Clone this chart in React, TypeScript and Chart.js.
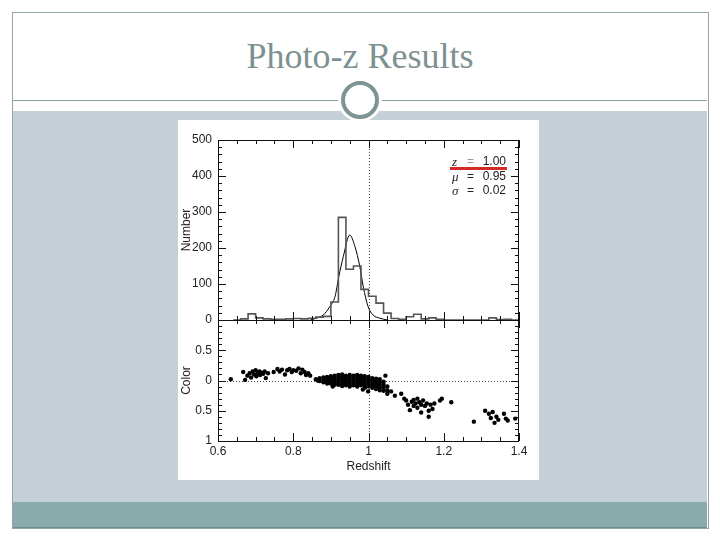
import React, { useEffect, useRef } from "react";
import Chart from "chart.js/auto";

// ---- Histogram (upper panel) ----
const binStarts = [0.64, 0.66, 0.68, 0.70, 0.72, 0.74, 0.76, 0.78, 0.80, 0.82, 0.84, 0.86, 0.88, 0.90, 0.92, 0.94, 0.96, 0.98, 1.00, 1.02, 1.04, 1.06, 1.08, 1.10, 1.12, 1.14, 1.16, 1.18, 1.20, 1.22, 1.24, 1.26, 1.28, 1.30, 1.32, 1.34, 1.36, 1.38];
const binCounts = [0, 3, 17, 6, 3, 2, 2, 3, 4, 3, 5, 8, 10, 50, 285, 141, 150, 85, 66, 47, 19, 4, 2, 9, 16, 3, 6, 2, 0, 0, 0, 0, 0, 0, 6, 1, 2, 0];
const histEnd = 1.40;

// ---- Gaussian fit curve ----
const fitZ = [0.845, 0.862, 0.880, 0.897, 0.911, 0.921, 0.933, 0.950, 0.964, 0.977, 0.986, 0.999, 1.012, 1.030, 1.050];
const fitN = [0, 5, 14, 37, 65, 120, 176, 236, 204, 148, 93, 37, 14, 5, 0];

// ---- Colour vs redshift (lower panel), [z, colour] ----
const scatterLow: [number, number][] = [
  [0.634, -0.02], [0.667, -0.14], [0.672, -0.01], [0.678, -0.08], [0.684, -0.12], [0.688, -0.05],
  [0.692, -0.15], [0.696, -0.1], [0.70, -0.17], [0.702, -0.07], [0.706, -0.12], [0.71, -0.15],
  [0.712, -0.09], [0.716, -0.13], [0.72, -0.11], [0.724, -0.15], [0.727, -0.04], [0.733, -0.12],
  [0.748, -0.14], [0.758, -0.19], [0.764, -0.15], [0.77, -0.18], [0.778, -0.1], [0.784, -0.17],
  [0.79, -0.19], [0.796, -0.14], [0.80, -0.17], [0.808, -0.16], [0.814, -0.2], [0.82, -0.12],
  [0.824, -0.18], [0.83, -0.14], [0.834, -0.09], [0.84, -0.12], [0.845, -0.08]
];
const scatterMain: [number, number][] = [
  [0.86, -0.02], [0.865, 0.0], [0.87, -0.04], [0.87, 0.01],
  [0.88, -0.05], [0.88, -0.01], [0.88, 0.03],
  [0.89, -0.06], [0.89, -0.02], [0.89, 0.02], [0.89, 0.05],
  [0.90, -0.07], [0.90, -0.03], [0.90, 0.01], [0.90, 0.05],
  [0.91, -0.08], [0.91, -0.04], [0.91, 0.0], [0.91, 0.04], [0.91, 0.07],
  [0.92, -0.09], [0.92, -0.05], [0.92, -0.01], [0.92, 0.03], [0.92, 0.07],
  [0.93, -0.1], [0.93, -0.06], [0.93, -0.02], [0.93, 0.02], [0.93, 0.06], [0.93, 0.09],
  [0.94, -0.08], [0.94, -0.04], [0.94, 0.0], [0.94, 0.04], [0.94, 0.08],
  [0.95, -0.09], [0.95, -0.05], [0.95, -0.01], [0.95, 0.03], [0.95, 0.07], [0.95, 0.1],
  [0.96, -0.08], [0.96, -0.04], [0.96, 0.0], [0.96, 0.04], [0.96, 0.08],
  [0.97, -0.09], [0.97, -0.05], [0.97, -0.01], [0.97, 0.03], [0.97, 0.07], [0.97, 0.1],
  [0.98, -0.08], [0.98, -0.04], [0.98, 0.0], [0.98, 0.04], [0.98, 0.08],
  [0.99, -0.07], [0.99, -0.03], [0.99, 0.01], [0.99, 0.05], [0.99, 0.09], [0.99, 0.12],
  [1.00, -0.06], [1.00, -0.02], [1.00, 0.02], [1.00, 0.06], [1.00, 0.1],
  [1.01, -0.04], [1.01, 0.0], [1.01, 0.04], [1.01, 0.08], [1.01, 0.12],
  [1.02, -0.03], [1.02, 0.01], [1.02, 0.05], [1.02, 0.09], [1.02, 0.14],
  [1.03, -0.02], [1.03, 0.03], [1.03, 0.07], [1.03, 0.11], [1.03, 0.16],
  [1.04, 0.02], [1.04, 0.07], [1.04, 0.12], [1.04, 0.17],
  [1.05, 0.1], [1.05, 0.16], [1.05, 0.22], [1.06, 0.18],
  [0.999, 0.18], [0.985, 0.15], [1.045, -0.08], [0.905, 0.1]
];
const scatterMid: [number, number][] = [
  [1.07, 0.25], [1.087, 0.22], [1.095, 0.3], [1.10, 0.33], [1.105, 0.4], [1.11, 0.49],
  [1.115, 0.35], [1.12, 0.32], [1.12, 0.42], [1.125, 0.38], [1.13, 0.3], [1.13, 0.45],
  [1.135, 0.36], [1.14, 0.4], [1.14, 0.53], [1.145, 0.33], [1.15, 0.42], [1.155, 0.38],
  [1.16, 0.6], [1.16, 0.5], [1.165, 0.4], [1.17, 0.47], [1.175, 0.38], [1.19, 0.33],
  [1.195, 0.3], [1.22, 0.36]
];
const scatterHigh: [number, number][] = [
  [1.28, 0.68], [1.31, 0.5], [1.32, 0.55], [1.325, 0.62], [1.33, 0.52], [1.335, 0.7],
  [1.34, 0.6], [1.345, 0.65], [1.36, 0.55], [1.365, 0.63], [1.37, 0.66], [1.39, 0.63]
];

// ---- Tick labels ----
const colorTickText: Record<string, string> = { "-1": "", "-0.5": "0.5", "0": "0", "0.5": "0.5", "1": "1" };
const legendRows = [
  { sym: "z", val: "1.00" },
  { sym: "μ", val: "0.95" },
  { sym: "σ", val: "0.02" }
];

const tickFont = { family: "'Liberation Sans', Arial, sans-serif", size: 12 };

function panelDecor(cfg: {
  xMinor: number; xMajor: number; yMinor: number; yMajor: number;
  dotted: { axis: "x" | "y"; value: number }[];
}) {
  return {
    id: "panelDecor",
    beforeDatasetsDraw(chart: any) {
      const { ctx, chartArea: a, scales } = chart;
      ctx.save();
      ctx.strokeStyle = "#444";
      ctx.lineWidth = 1;
      ctx.setLineDash([1, 2]);
      for (const d of cfg.dotted) {
        ctx.beginPath();
        if (d.axis === "x") {
          const px = Math.round(scales.x.getPixelForValue(d.value)) + 0.5;
          ctx.moveTo(px, a.top);
          ctx.lineTo(px, a.bottom);
        } else {
          const py = Math.round(scales.y.getPixelForValue(d.value)) + 0.5;
          ctx.moveTo(a.left, py);
          ctx.lineTo(a.right, py);
        }
        ctx.stroke();
      }
      ctx.restore();
    },
    afterDatasetsDraw(chart: any) {
      const { ctx, chartArea: a, scales } = chart;
      ctx.save();
      ctx.strokeStyle = "#111";
      ctx.lineWidth = 1;
      ctx.setLineDash([]);
      ctx.strokeRect(Math.round(a.left) + 0.5, Math.round(a.top) + 0.5, Math.round(a.right - a.left) - 1, Math.round(a.bottom - a.top));
      const drawAxis = (scale: any, minor: number, major: number, horiz: boolean) => {
        const n = Math.round((scale.max - scale.min) / minor);
        for (let i = 0; i <= n; i++) {
          const v = scale.min + i * minor;
          const r = v / major;
          const isMajor = Math.abs(r - Math.round(r)) < 1e-6;
          const len = isMajor ? 8 : 4;
          const p = Math.round(scale.getPixelForValue(v)) + 0.5;
          ctx.beginPath();
          if (horiz) {
            ctx.moveTo(p, a.bottom); ctx.lineTo(p, a.bottom - len);
            ctx.moveTo(p, a.top); ctx.lineTo(p, a.top + len);
          } else {
            ctx.moveTo(a.left, p); ctx.lineTo(a.left + len, p);
            ctx.moveTo(a.right, p); ctx.lineTo(a.right - len, p);
          }
          ctx.stroke();
        }
      };
      drawAxis(scales.x, cfg.xMinor, cfg.xMajor, true);
      drawAxis(scales.y, cfg.yMinor, cfg.yMajor, false);
      ctx.restore();
    }
  };
}

function TopPanel() {
  const ref = useRef<HTMLCanvasElement>(null);
  useEffect(() => {
    if (!ref.current) return;
    // each bin's count is held from its left edge to the next edge
    const histPoints = binStarts.map((x, i) => ({ x, y: binCounts[i] }));
    histPoints.push({ x: histEnd, y: 0 });
    const fitPoints = fitZ.map((x, i) => ({ x, y: fitN[i] }));
    const chart = new Chart(ref.current, {
      type: "line",
      data: {
        datasets: [
          { data: histPoints, stepped: "before", borderColor: "#555", borderWidth: 1.6, pointRadius: 0, fill: false },
          { data: fitPoints, borderColor: "#000", borderWidth: 1, pointRadius: 0, fill: false, cubicInterpolationMode: "monotone" }
        ]
      },
      options: {
        animation: false,
        responsive: false,
        events: [],
        layout: { padding: { top: 20, bottom: 20, right: 20, left: 0 } },
        plugins: { legend: { display: false }, tooltip: { enabled: false } },
        scales: {
          x: { type: "linear", min: 0.6, max: 1.4, display: false },
          y: {
            type: "linear", min: 0, max: 500,
            ticks: { stepSize: 100, padding: 6, color: "#222", font: tickFont },
            grid: { display: false, drawTicks: false },
            border: { display: false },
            title: { display: true, text: "Number", color: "#222", font: tickFont, padding: { top: 1, bottom: 0 } },
            afterFit: (s: any) => { s.width = 40; }
          }
        }
      } as any,
      plugins: [panelDecor({ xMinor: 0.05, xMajor: 0.2, yMinor: 20, yMajor: 100, dotted: [{ axis: "x", value: 1.0 }] })]
    });
    return () => chart.destroy();
  }, []);
  return <canvas ref={ref} width={361} height={220} style={{ position: "absolute", left: 178, top: 120 }} />;
}

function BottomPanel() {
  const ref = useRef<HTMLCanvasElement>(null);
  useEffect(() => {
    if (!ref.current) return;
    const pts = [...scatterLow, ...scatterMain, ...scatterMid, ...scatterHigh].map(([x, y]) => ({ x, y }));
    const chart = new Chart(ref.current, {
      type: "scatter",
      data: {
        datasets: [{ data: pts, pointRadius: 2.2, pointBorderWidth: 0, backgroundColor: "#000", pointBackgroundColor: "#000" }]
      },
      options: {
        animation: false,
        responsive: false,
        events: [],
        layout: { padding: { top: 20, bottom: 0, right: 20, left: 0 } },
        plugins: { legend: { display: false }, tooltip: { enabled: false } },
        scales: {
          x: {
            type: "linear", min: 0.6, max: 1.4,
            ticks: { stepSize: 0.2, padding: 3, color: "#222", font: tickFont, callback: (v: any) => String(Number(Number(v).toFixed(2))) },
            grid: { display: false, drawTicks: false },
            border: { display: false },
            title: { display: true, text: "Redshift", color: "#222", font: tickFont, padding: { top: 0, bottom: 6 } },
            afterFit: (s: any) => { s.height = 39; }
          },
          y: {
            type: "linear", min: -1, max: 1, reverse: true,
            ticks: {
              stepSize: 0.5, padding: 6, color: "#222", font: tickFont,
              callback: (v: any) => colorTickText[String(Number(Number(v).toFixed(2)))] ?? ""
            },
            grid: { display: false, drawTicks: false },
            border: { display: false },
            title: { display: true, text: "Color", color: "#222", font: tickFont, padding: { top: 1, bottom: 0 } },
            afterFit: (s: any) => { s.width = 40; }
          }
        }
      } as any,
      plugins: [panelDecor({
        xMinor: 0.05, xMajor: 0.2, yMinor: 0.1, yMajor: 0.5,
        dotted: [{ axis: "x", value: 1.0 }, { axis: "y", value: 0 }]
      })]
    });
    return () => chart.destroy();
  }, []);
  return <canvas ref={ref} width={361} height={180} style={{ position: "absolute", left: 178, top: 300 }} />;
}

export default function App() {
  return (
    <div style={{ position: "fixed", left: 0, top: 0, width: 720, height: 540, background: "#fff", overflow: "hidden" }}>
      {/* slide frame */}
      <div style={{ position: "absolute", left: 12, top: 12, width: 695, height: 515, border: "1px solid #93a5a5" }} />
      {/* grey body */}
      <div style={{ position: "absolute", left: 13, top: 111, width: 694, height: 391, background: "#c5d0d6" }} />
      {/* teal footer band */}
      <div style={{ position: "absolute", left: 13, top: 502, width: 694, height: 25, background: "#8aacac", borderBottom: "1px solid #6e8f8f" }} />
      {/* title rule */}
      <div style={{ position: "absolute", left: 13, top: 100, width: 694, height: 1, background: "#8c9e9e" }} />
      {/* title */}
      <div style={{
        position: "absolute", left: 0, top: 34, width: 720, textAlign: "center",
        fontFamily: "'Liberation Serif', 'Times New Roman', serif", fontSize: 36, lineHeight: "44px", color: "#7d9191"
      }}>Photo-z Results</div>
      {/* circle ornament */}
      <div style={{
        position: "absolute", left: 341, top: 81, width: 30, height: 30, borderRadius: "50%",
        border: "4px solid #7e9494", background: "#fff", boxShadow: "0 0 0 3px #fff"
      }} />
      {/* white figure box */}
      <div style={{ position: "absolute", left: 178, top: 120, width: 361, height: 360, background: "#fff" }} />
      <TopPanel />
      <BottomPanel />
      {/* legend text */}
      {legendRows.map((r, i) => (
        <div key={r.sym} style={{ position: "absolute", left: 450, top: 154 + i * 14.5, width: 56, height: 14, fontSize: 12, color: "#222" }}>
          <span style={{ position: "absolute", left: 2, top: 0, fontFamily: "'Liberation Serif', serif", fontStyle: "italic", fontSize: 13 }}>{r.sym}</span>
          <span style={{ position: "absolute", left: 17, top: 0, fontFamily: "'Liberation Sans', sans-serif", color: i === 0 ? "#999" : "#222" }}>=</span>
          <span style={{ position: "absolute", right: 0, top: 0, fontFamily: "'Liberation Sans', sans-serif" }}>{r.val}</span>
        </div>
      ))}
      {/* red underline annotation */}
      <div style={{ position: "absolute", left: 450, top: 167, width: 57, height: 3, background: "#d42a2a" }} />
    </div>
  );
}
